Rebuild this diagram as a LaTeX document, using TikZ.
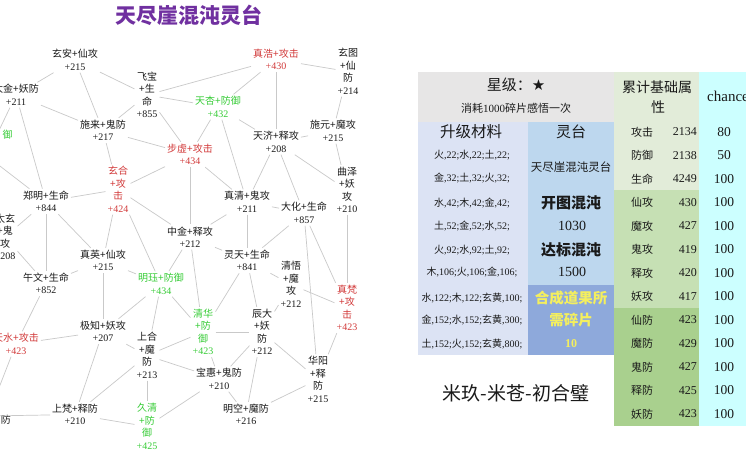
\documentclass[tikz,border=0pt]{standalone}
\usepackage{fontspec}
\setmainfont{Liberation Serif}
\newfontfamily\cjk{Noto Sans CJK SC}
\newfontfamily\djv{DejaVu Sans}
\newcommand\C[1]{{\cjk #1}}
\newcommand\N[1]{{\rmfamily #1}}
\definecolor{edgec}{HTML}{C9C9C9}
\definecolor{txt}{HTML}{1A1A1A}
\definecolor{redt}{HTML}{D23A3A}
\definecolor{grnt}{HTML}{36CC36}
\definecolor{ttl}{HTML}{7030A0}
\definecolor{gry}{HTML}{E7E6E6}
\definecolor{lav}{HTML}{DCE3F4}
\definecolor{lblue}{HTML}{BDD7EE}
\definecolor{dblue}{HTML}{8EA9DB}
\definecolor{gA}{HTML}{E2ECD9}
\definecolor{gB}{HTML}{C6E0B4}
\definecolor{gC}{HTML}{A9D08E}
\definecolor{cyn}{HTML}{CCFFFF}
\definecolor{ylw}{HTML}{F4EF5E}
\tikzset{
  nd/.style={align=center, inner sep=2pt, text=txt, font=\cjk\fontsize{10}{12.5}\selectfont},
  rd/.style={nd, text=redt},
  gn/.style={nd, text=grnt},
  ln/.style={draw=edgec, line width=0.7pt},
  cell/.style={inner sep=0pt, text=txt},
}
\begin{document}
\begin{tikzpicture}[x=1pt,y=-1pt]
\useasboundingbox (0,0) rectangle (746,450);
\fill[white] (0,0) rectangle (746,450);
% title
\node[font=\cjk\bfseries\fontsize{21}{21}\selectfont, text=ttl, inner sep=0pt] (title) at (189,15) {天尽崖混沌灵台};
% nodes
\node[nd] (A) at (75,60) {玄安+仙攻\\\N{+215}};
\node[nd] (B) at (16,95) {太金+妖防\\\N{+211}};
\node[gn, inner sep=0pt] (C) at (7.5,135) {御};
\node[nd] (D) at (147,95) {飞宝\\+生\\命\\\N{+855}};
\node[nd] (E) at (103,130.5) {施来+鬼防\\\N{+217}};
\node[rd] (F) at (276,59.5) {真浩+攻击\\\N{+430}};
\node[nd] (G) at (348,71.5) {玄图\\+仙\\防\\\N{+214}};
\node[gn] (H) at (218,107) {天杏+防御\\\N{+432}};
\node[rd] (I) at (190,154.5) {步虚+攻击\\\N{+434}};
\node[nd] (J) at (276,142) {天济+释攻\\\N{+208}};
\node[nd] (K) at (333,131) {施元+魔攻\\\N{+215}};
\node[rd] (L) at (118,189.5) {玄合\\+攻\\击\\\N{+424}};
\node[nd] (M) at (46,201.5) {郑明+生命\\\N{+844}};
\node[nd] (Nn) at (5,237) {太玄\\+鬼\\攻\\\N{+208}};
\node[nd] (O) at (103,260.5) {真英+仙攻\\\N{+215}};
\node[nd] (P) at (46,283.5) {午文+生命\\\N{+852}};
\node[gn] (Q) at (161,284) {明珏+防御\\\N{+434}};
\node[nd] (R) at (190,237) {中金+释攻\\\N{+212}};
\node[nd] (S) at (247,202) {真清+鬼攻\\\N{+211}};
\node[nd] (T) at (304,213) {大化+生命\\\N{+857}};
\node[nd] (U) at (347,190) {曲泽\\+妖\\攻\\\N{+210}};
\node[nd] (V) at (247,260.5) {灵天+生命\\\N{+841}};
\node[nd] (W) at (291,284.5) {清悟\\+魔\\攻\\\N{+212}};
\node[rd] (X) at (347,308) {真梵\\+攻\\击\\\N{+423}};
\node[rd] (Y) at (16,344) {天水+攻击\\\N{+423}};
\node[nd] (Z) at (103,331.5) {极知+妖攻\\\N{+207}};
\node[nd] (AA) at (147,355.5) {上合\\+魔\\防\\\N{+213}};
\node[gn] (AB) at (203,332) {清华\\+防\\御\\\N{+423}};
\node[nd] (AC) at (262,332) {辰大\\+妖\\防\\\N{+212}};
\node[nd] (AD) at (219,379) {宝惠+鬼防\\\N{+210}};
\node[nd] (AE) at (318,379.5) {华阳\\+释\\防\\\N{+215}};
\node[nd] (AF) at (246,414.5) {明空+魔防\\\N{+216}};
\node[nd] (AG) at (75,414.5) {上梵+释防\\\N{+210}};
\node[gn] (AH) at (147,426.5) {久清\\+防\\御\\\N{+425}};
\node[nd, inner sep=0pt] (AIt) at (6,420) {防};
\coordinate (Bx) at (-8,145);
\coordinate (Mx) at (-30,143);
\coordinate (AI) at (-12,416);
% edges
\foreach \a/\b in {A/B,A/D,A/E,B/E,B/Bx,B/M,D/F,D/H,D/I,D/E,E/I,E/L,F/G,F/H,F/J,G/K,H/J,H/S,H/I,J/K,K/U,J/S,J/T,J/U,I/L,I/R,I/S,L/M,L/R,L/Q,L/O,M/Nn,M/Mx,M/O,M/P,Nn/P,O/P,O/Q,O/Z,Q/R,Q/AB,Q/Z,Q/AA,R/S,R/V,R/AB,S/T,S/V,T/V,T/AE,T/X,U/X,V/AC,V/W,V/AB,W/X,W/AC,X/AE,AB/AC,AA/AB,AB/AD,AC/AD,AC/AE,AC/AF,AD/AF,AE/AF,Z/AA,AA/AD,AA/AG,AA/AH,Z/AG,Z/Y,Y/P,Y/AI,AG/AI,AG/AH,AH/AD}
  \draw[ln] (\a) -- (\b);
% table backgrounds
\fill[gry] (418,72) rectangle (614,122);
\fill[lav] (418,122) rectangle (528,355);
\fill[lblue] (528,122) rectangle (614,285);
\fill[dblue] (528,285) rectangle (614,355);
\fill[gA] (614,72) rectangle (699,190);
\fill[gB] (614,190) rectangle (699,308);
\fill[gC] (614,308) rectangle (699,426);
\fill[cyn] (699,72) rectangle (746,426);
% header
\node[cell, font=\cjk\fontsize{15}{15}\selectfont] (h1) at (516,85) {星级：{\djv ★}};
\node[cell, font=\cjk\fontsize{11}{11}\selectfont] (h2) at (516,108) {消耗\N{1000}碎片感悟一次};
\node[cell, font=\cjk\fontsize{15.5}{15.5}\selectfont] (h3) at (471,132) {升级材料};
\node[cell, font=\cjk\fontsize{15}{15}\selectfont] (h4) at (571,132) {灵台};
\node[cell, font=\cjk\fontsize{11.5}{11.5}\selectfont] (h5) at (571,167) {天尽崖混沌灵台};
% materials
\foreach \y/\t [count=\i] in {155/{\C{火},22;\C{水},22;\C{土},22;},178/{\C{金},32;\C{土},32;\C{火},32;},203/{\C{水},42;\C{木},42;\C{金},42;},226/{\C{土},52;\C{金},52;\C{水},52;},250/{\C{火},92;\C{水},92;\C{土},92;},272/{\C{木},106;\C{火},106;\C{金},106;},298/{\C{水},122;\C{木},122;\C{玄黄},100;},320/{\C{金},152;\C{水},152;\C{玄黄},300;},344/{\C{土},152;\C{火},152;\C{玄黄},800;}}
  \node[cell, font=\fontsize{10}{10}\selectfont] (m\i) at (472,\y) {\t};
\node[cell, font=\cjk\bfseries\fontsize{15}{15}\selectfont] (k1) at (571,203) {开图混沌};
\node[cell, font=\fontsize{14}{14}\selectfont] (k2) at (572,226) {1030};
\node[cell, font=\cjk\bfseries\fontsize{15}{15}\selectfont] (k3) at (571,250) {达标混沌};
\node[cell, font=\fontsize{14}{14}\selectfont] (k4) at (572,272) {1500};
\node[cell, text=ylw, font=\cjk\bfseries\fontsize{14.5}{14.5}\selectfont] (y1) at (571,298) {合成道果所};
\node[cell, text=ylw, font=\cjk\bfseries\fontsize{14.5}{14.5}\selectfont] (y2) at (571,320) {需碎片};
\node[cell, text=ylw, font=\bfseries\fontsize{12}{12}\selectfont] (y3) at (571,344) {10};
\node[cell, font=\cjk\fontsize{19}{19}\selectfont] (sig) at (516,393) {米玖-米苍-初合璧};
% attribute column
\node[cell, font=\cjk\fontsize{14}{14}\selectfont] (a1) at (657,87) {累计基础属};
\node[cell, font=\cjk\fontsize{14}{14}\selectfont] (a2) at (658,107) {性};
\node[cell, font=\fontsize{15}{15}\selectfont, anchor=base west] (ch) at (707,101) {chance};
\foreach \nm/\v/\c [count=\i from 0] in {攻击/2134/80,防御/2138/50,生命/4249/100,仙攻/430/100,魔攻/427/100,鬼攻/419/100,释攻/420/100,妖攻/417/100,仙防/423/100,魔防/429/100,鬼防/427/100,释防/425/100,妖防/423/100}{
  \node[cell, font=\cjk\fontsize{11}{11}\selectfont] (n\i) at (642,132+23.5*\i) {\nm};
  \node[cell, font=\fontsize{12}{12}\selectfont, anchor=east] (v\i) at (697,132+23.5*\i) {\v};
  \node[cell, font=\fontsize{13.5}{13.5}\selectfont] (c\i) at (724,132+23.5*\i) {\c};
}
\end{tikzpicture}
\end{document}
